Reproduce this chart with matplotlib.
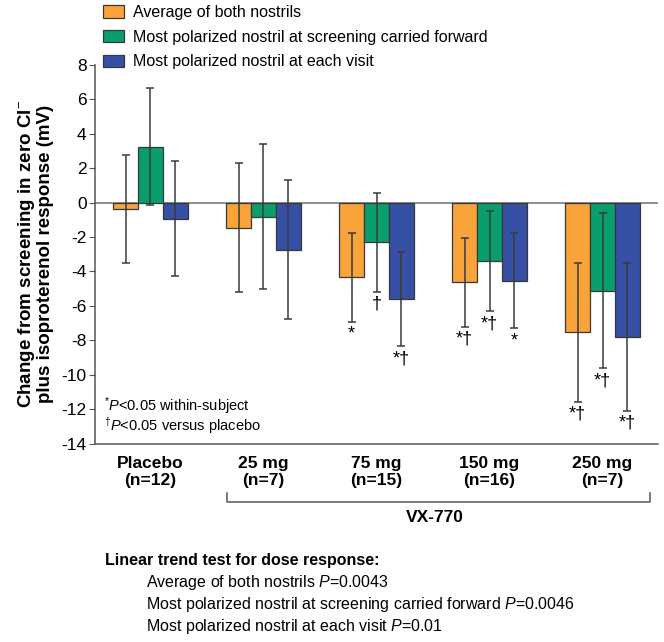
import numpy as np
import matplotlib
matplotlib.use("Agg")
import matplotlib.pyplot as plt
from matplotlib.patches import Patch
from matplotlib.lines import Line2D

plt.rcParams['font.family'] = ['Liberation Sans', 'DejaVu Sans']
plt.rcParams['mathtext.fontset'] = 'custom'
plt.rcParams['mathtext.rm'] = 'Liberation Sans'
plt.rcParams['mathtext.it'] = 'Liberation Sans:italic'
plt.rcParams['axes.unicode_minus'] = False

# data
groups = ['Placebo\n(n=12)', '25 mg\n(n=7)', '75 mg\n(n=15)', '150 mg\n(n=16)', '250 mg\n(n=7)']
series = ['Average of both nostrils',
          'Most polarized nostril at screening carried forward',
          'Most polarized nostril at each visit']
avg_both = [-0.38, -1.45, -4.34, -4.63, -7.53]
avg_err = [3.13, 3.77, 2.57, 2.57, 4.04]
screen_cf = [3.26, -0.81, -2.30, -3.41, -5.12]
screen_err = [3.41, 4.22, 2.88, 2.91, 4.52]
each_visit = [-0.93, -2.75, -5.62, -4.53, -7.79]
visit_err = [3.35, 4.04, 2.74, 2.78, 4.30]
# significance marks per series and group
avg_sig = ['', '', '*', '*†', '*†']
screen_sig = ['', '', '†', '*†', '*†']
visit_sig = ['', '', '*†', '*', '*†']
trend_p = ['0.0043', '0.0046', '0.01']

colors = ['#F9A33B', '#0A9E6E', '#3550A5']

W, H = 664, 642
fig = plt.figure(figsize=(W / 100, H / 100), dpi=100)


def fx(x):
    return x / W


def fy(y):
    return 1 - y / H


ax = fig.add_axes([fx(95), fy(443.5), fx(658) - fx(95), fy(65) - fy(443.5)])

x = np.arange(len(groups))
bw = 0.22
vals = [avg_both, screen_cf, each_visit]
errs = [avg_err, screen_err, visit_err]
sigs = [avg_sig, screen_sig, visit_sig]
for i, (v, e, s) in enumerate(zip(vals, errs, sigs)):
    xs = x + (i - 1) * bw
    ax.bar(xs, v, bw, color=colors[i], edgecolor='#383838', linewidth=0.9, zorder=2)
    ax.errorbar(xs, v, yerr=e, fmt='none', ecolor='#3a3a3a', elinewidth=1.1,
                capsize=2.6, capthick=1.1, zorder=3)
    for xi, vi, ei, si in zip(xs, v, e, s):
        if si:
            ax.annotate(si, (xi, vi - ei), xytext=(0, -3), textcoords='offset points',
                        ha='center', va='top', fontsize=13, zorder=4)

ax.axhline(0, color='#7a7a7a', lw=1.2, zorder=1)
ax.set_xlim(-0.49, 4.49)
ax.set_ylim(-14, 8)
ax.set_yticks(np.arange(-14, 9, 2))
ax.tick_params(axis='y', labelsize=12.5, length=4, color='#555555', pad=2)
ax.set_xticks(x)
ax.set_xticklabels(groups, fontsize=12.5, fontweight='bold', linespacing=1.15)
ax.tick_params(axis='x', length=0, pad=9)
for sp in ['top', 'right']:
    ax.spines[sp].set_visible(False)
ax.spines['left'].set_color('#555555')
ax.spines['bottom'].set_color('#555555')
ax.spines['left'].set_linewidth(1.1)
ax.spines['bottom'].set_linewidth(1.1)

fig.text(fx(35), fy(254), 'Change from screening in zero Cl$^{-}$\nplus isoproterenol response (mV)',
         rotation=90, ha='center', va='center', fontsize=13.5, fontweight='bold',
         linespacing=1.05)

fig.text(fx(104), fy(406), '$^{*}\\mathit{P}$<0.05 within-subject',
         fontsize=10.5, va='center')
fig.text(fx(104), fy(426), '$^{\\dagger}\\mathit{P}$<0.05 versus placebo',
         fontsize=10.5, va='center')

# legend
handles = [Patch(facecolor=c, edgecolor='#383838', linewidth=0.9) for c in colors]
fig.legend(handles, series, loc='upper left', bbox_to_anchor=(fx(103), fy(5)),
           frameon=False, fontsize=11.5, handlelength=1.3, handleheight=0.8,
           handletextpad=0.6, labelspacing=0.6, borderpad=0, borderaxespad=0)

# VX-770 bracket
fig.add_artist(Line2D([fx(227), fx(227), fx(650), fx(650)], [fy(493), fy(502), fy(502), fy(493)],
                      color='#555555', lw=1.1))
fig.text(fx(435), fy(517), 'VX-770', ha='center', va='center', fontsize=12.5, fontweight='bold')

fig.text(fx(105), fy(560), 'Linear trend test for dose response:', ha='left', va='center',
         fontsize=11.5, fontweight='bold')
for k, (name, p) in enumerate(zip(series, trend_p)):
    fig.text(fx(146), fy(582 + 22.5 * k), name + ' $\\mathit{P}$=' + p, ha='left', va='center',
             fontsize=11.5)

fig.savefig('out.png', dpi=100)
